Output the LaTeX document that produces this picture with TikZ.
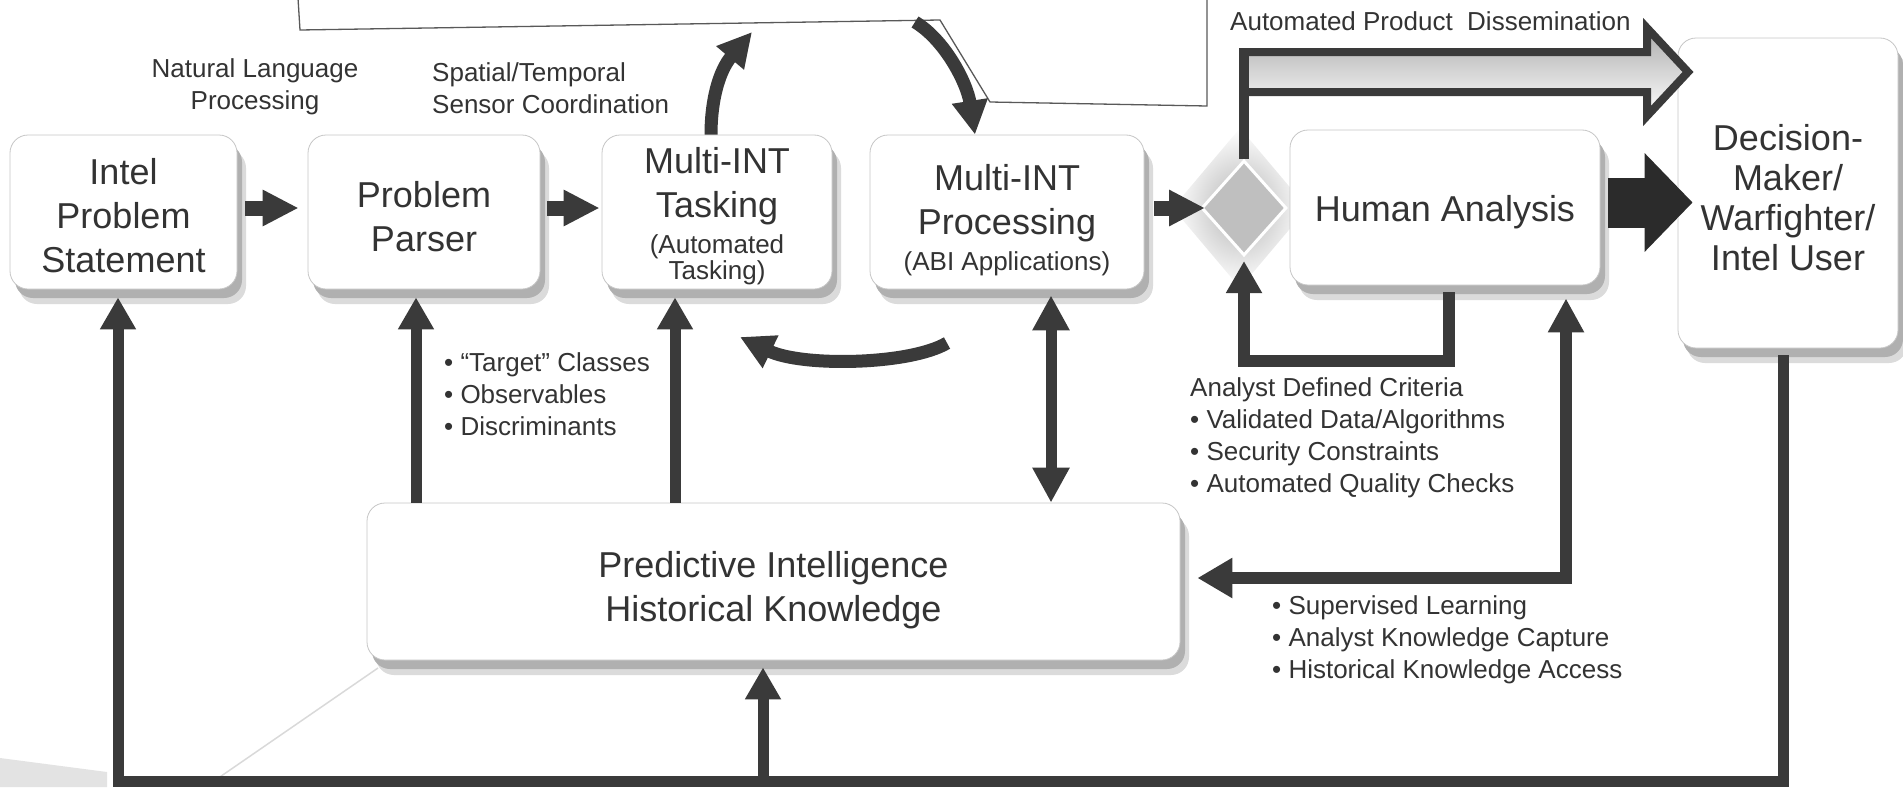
\documentclass[tikz,border=0pt]{standalone}
\usepackage{fontspec}
\setmainfont{Liberation Sans}
\usetikzlibrary{arrows.meta,calc,shapes.geometric,shadows}
\definecolor{txt}{HTML}{333333}
\definecolor{arr}{HTML}{3A3A3A}
\definecolor{arrD}{HTML}{2B2B2B}
\newcommand{\bigf}{\fontsize{36pt}{44pt}\selectfont}
\newcommand{\smf}{\fontsize{26pt}{32pt}\selectfont}
\begin{document}
\begin{tikzpicture}[x=1pt,y=-1pt,
  box/.style={draw=gray!45, line width=0.8pt, fill=white, rounded corners=18pt, inner sep=0pt,
    general shadow={shadow xshift=9pt, shadow yshift=-15pt, fill=gray!28},
    general shadow={shadow xshift=5pt, shadow yshift=-9pt, fill=gray!62}},
  btxt/.style={align=center, text=txt, font=\bigf, inner sep=0pt},
  blk/.style={line width=15pt, draw=arr, -{Triangle[length=36pt,width=34pt]}},
  conn/.style={line width=11pt, draw=arr, -{Triangle[length=32pt,width=34pt]}},
  curv/.style={line width=13pt, draw=arr, -{Triangle[length=34pt,width=34pt]}},
  lbl/.style={text=txt, font=\smf, inner sep=0pt},
]
\useasboundingbox (0,0) rectangle (1903,787);

% faint background artefacts
\fill[gray!22] (0,758) -- (107,772) -- (107,787) -- (0,787) -- cycle;
\draw[gray!30, line width=1.5pt] (378,668) -- (214,781);

% callout outline at top
\draw[line width=1.3pt, draw=black!65, line join=miter] (298,-2) -- (300,30) -- (940,20) -- (990,102) -- (1207,106) -- (1207,-2);

% decision diamond with halo
\node[diamond, minimum width=135pt, minimum height=160pt, inner sep=0pt, inner color=gray!60, outer color=white] (halo) at (1240,208) {};
\node[diamond, minimum width=85pt, minimum height=95pt, inner sep=0pt, fill=gray!50, draw=white, line width=3pt] (diam) at (1244,208) {};

% boxes
\node[box, minimum width=227pt, minimum height=154pt] (intel) at (123.5,212) {};
\node[box, minimum width=232pt, minimum height=154pt] (parser) at (424,212) {};
\node[box, minimum width=230pt, minimum height=154pt] (task) at (717,212) {};
\node[box, minimum width=274pt, minimum height=154pt] (proc) at (1007,212) {};
\node[box, minimum width=310pt, minimum height=155pt] (human) at (1445,207.5) {};
\node[box, minimum width=220pt, minimum height=310pt] (dec) at (1788,193) {};
\node[box, minimum width=813pt, minimum height=157pt] (pred) at (773.5,581.5) {};

% box texts
\node[btxt] (intelT) at ([yshift=-4pt]intel.center) {Intel\\Problem\\Statement};
\node[btxt] (parserT) at ([yshift=-5pt]parser.center) {Problem\\Parser};
\node[btxt] (taskT) at ([yshift=-4pt]task.center) {Multi-INT\\Tasking\\[-8pt]\smf(Automated\\[-18pt]\smf Tasking)};
\node[btxt] (procT) at ([yshift=-8pt]proc.center) {Multi-INT\\Processing\\[-8pt]\smf(ABI Applications)};
\node[btxt] (humanT) at ([yshift=-5pt]human.center) {Human Analysis};
\node[btxt, font=\fontsize{36pt}{40pt}\selectfont] (decT) at ([yshift=-5pt]dec.center) {Decision-\\Maker/\\Warfighter/\\Intel User};
\node[btxt] (predT) at ([yshift=-9pt]pred.center) {Predictive Intelligence\\Historical Knowledge};

% labels
\node[lbl, align=center] (nlp) at (255,87) {Natural Language\\Processing};
\node[lbl, align=left, anchor=west] (stc) at (432,88) {Spatial/Temporal\\Sensor Coordination};
\node[lbl, anchor=west] (apd) at (1230,21) {Automated Product\ \ Dissemination};
\node[lbl, align=left, anchor=west] (tc) at (444,394) {• “Target” Classes\\• Observables\\• Discriminants};
\node[lbl, align=left, anchor=west] (adc) at (1190,438) {Analyst Defined Criteria\\• Validated Data/Algorithms\\• Security Constraints\\• Automated Quality Checks};
\node[lbl, align=left, anchor=west] (sl) at (1272,640) {• Supervised Learning\\• Analyst Knowledge Capture\\• Historical Knowledge Access};

% horizontal block arrows
\draw[blk] ([xshift=8pt,yshift=4pt]intel.east) -- ([xshift=-9pt,yshift=4pt]parser.west);
\draw[blk] ([xshift=7pt,yshift=4pt]parser.east) -- ([xshift=-2pt,yshift=4pt]task.west);
\draw[blk] ([xshift=10pt,yshift=4pt]proc.east) -- ([xshift=5pt]diam.west);
\draw[line width=50pt, draw=arrD, -{Triangle[length=48pt,width=96pt]}] ([xshift=8pt,yshift=5pt]human.east) -- ([xshift=15pt,yshift=-9.5pt]dec.west);

% automated product dissemination (hollow arrow)
\coordinate (hl) at (diam.north |- 0,52);
\draw[line width=8pt, draw=arr, line join=miter, top color=gray!65, bottom color=white]
  (hl) -- (1647,52) -- (1647,28) -- (1688,72) -- (1647,116) -- (1647,92) -- (hl |- 0,92) -- cycle;
\draw[line width=10pt, draw=arr] (diam.north) -- ([yshift=4pt]hl);

% analyst loop back into diamond
\draw[conn, line width=12pt, shorten >=4pt] ([xshift=4pt,yshift=-7pt]human.south) |- ($(diam.south)+(0,104)$) -- (diam.south);

% human analysis <-> predictive
\draw[conn, line width=12pt, {Triangle[length=35pt,width=38pt]}-{Triangle[length=34pt,width=34pt]}]
  ([xshift=17pt,yshift=3.5pt]pred.east) -| ([xshift=121pt,yshift=-13pt]human.south);

% predictive <-> processing
\draw[conn, {Triangle[length=35pt,width=35pt]}-{Triangle[length=35pt,width=35pt]}, shorten >=6pt]
  (pred.north -| 1051,0) -- (proc.south -| 1051,0);

% predictive -> parser, tasking
\draw[conn, shorten >=8pt] (pred.north -| 416,0) -- (parser.south -| 416,0);
\draw[conn, shorten >=8pt] (pred.north -| 675,0) -- (task.south -| 675,0);

% bottom feedback loop
\coordinate (fbl) at (118,781);
\coordinate (fbm) at (763,781);
\draw[conn, line join=miter, shorten >=8pt] ([xshift=-5pt,yshift=-7pt]dec.south) |- (fbl) -- (intel.south -| fbl);
\draw[conn, shorten >=7pt] (fbm) -- (pred.south -| fbm);

% curved cycle arrows
\coordinate (c1) at (752,32);
\coordinate (c2) at (915,22);
\coordinate (c3) at (947,343);
\coordinate (c4) at (740,337);
\draw[curv] ([xshift=-6pt]task.north) .. controls (711,100) and (719,71) .. (c1);
\draw[curv] (c2) .. controls (945,40) and (967,83) .. ([xshift=-32pt]proc.north);
\draw[curv] (c3) .. controls (910,365) and (802,367) .. (c4);
\end{tikzpicture}
\end{document}
